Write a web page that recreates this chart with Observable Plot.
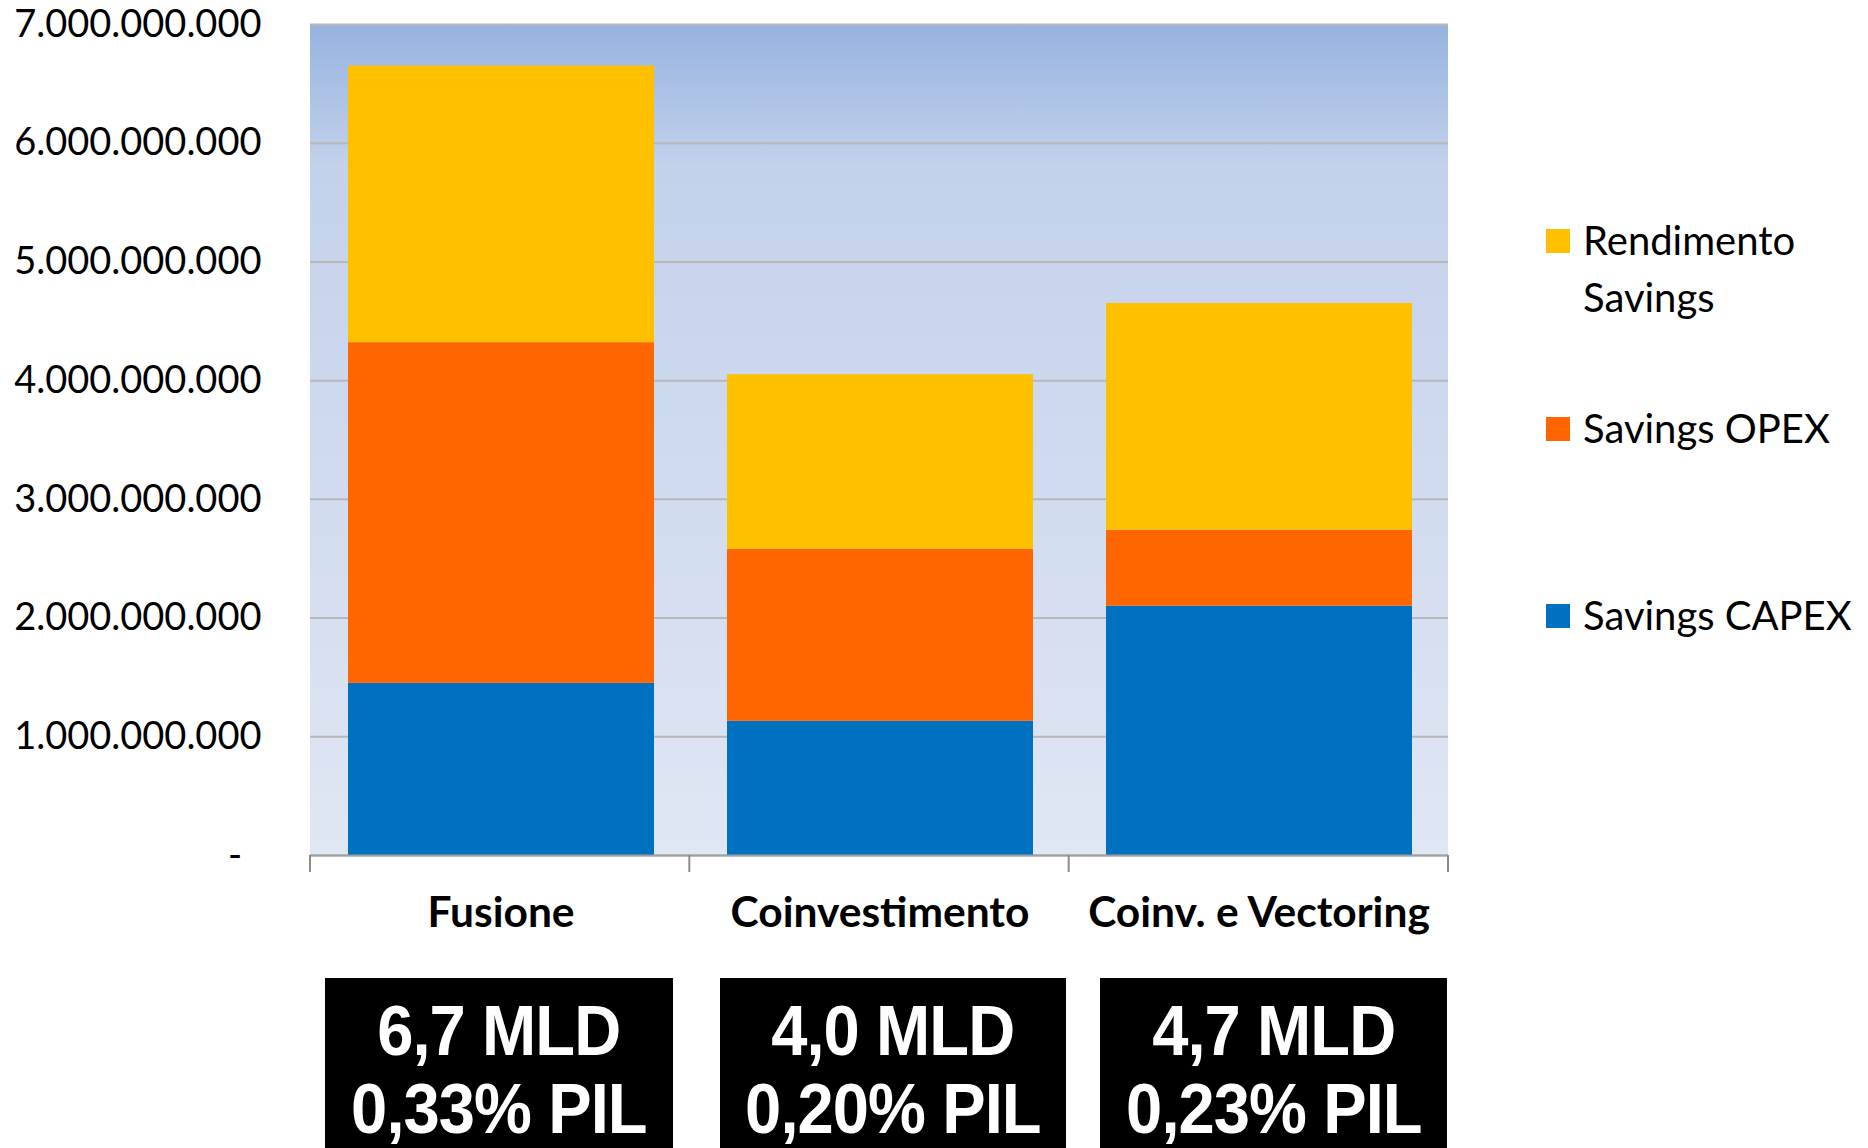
<!DOCTYPE html>
<html>
<head>
<meta charset="utf-8">
<script src="https://cdn.jsdelivr.net/npm/d3@7"></script>
<script src="https://cdn.jsdelivr.net/npm/@observablehq/plot@0.6"></script>
<style>
  body { margin: 0; background: #fff; }
  #wrap { position: relative; width: 1868px; height: 1148px; overflow: hidden; font-family: Lato, sans-serif; }
  #chart { position: absolute; left: 0; top: 0; }
  .li { position: absolute; left: 1546px; display: flex; align-items: flex-start; font-family: Lato, sans-serif; font-size: 40px; line-height: 57px; color: #000; }
  .sw { width: 24px; height: 24px; margin-top: 17px; margin-right: 13px; flex: none; }
  .box { position: absolute; top: 978px; height: 200px; background: #000; color: #fff; text-align: center;
         font-family: "Liberation Sans", Arial, sans-serif; font-weight: bold;
         font-size: 70px; line-height: 78px; padding-top: 14px; box-sizing: border-box; }
  .box span { display: inline-block; transform: scaleX(0.93); white-space: nowrap; letter-spacing: -1px; }
</style>
</head>
<body>
<div id="wrap">
  <div id="chart"></div>
</div>
<script>
// ---- data ----
const categories = ["Fusione", "Coinvestimento", "Coinv. e Vectoring"];
const seriesNames = ["Savings CAPEX", "Savings OPEX", "Rendimento Savings"];
const capex      = [1.45e9, 1.13e9, 2.10e9];
const opex       = [2.87e9, 1.45e9, 0.64e9];
const rendimento = [2.33e9, 1.47e9, 1.91e9];
const seriesColors = ["#0070C0", "#FF6600", "#FFC000"];
const yTicks = [0, 1e9, 2e9, 3e9, 4e9, 5e9, 6e9, 7e9];
const totalLabels = ["6,7 MLD", "4,0 MLD", "4,7 MLD"];
const pilLabels = ["0,33% PIL", "0,20% PIL", "0,23% PIL"];
const legendOrder = ["Rendimento Savings", "Savings OPEX", "Savings CAPEX"];

const seriesValues = [capex, opex, rendimento];
const table = [];
seriesNames.forEach((s, si) => categories.forEach((c, ci) => table.push({cat: c, series: s, value: seriesValues[si][ci]})));

const it = d3.formatLocale({decimal: ",", thousands: ".", grouping: [3], currency: ["€", ""]});
const fmt = d => d === 0 ? "-\u00a0\u00a0" : it.format(",")(d);

// background gradient of the plot area
function background(index, scales, values, dims) {
  const g = d3.create("svg:g");
  const defs = g.append("defs");
  const lg = defs.append("linearGradient").attr("id", "bggrad").attr("x1", 0).attr("y1", 0).attr("x2", 0).attr("y2", 1);
  lg.append("stop").attr("offset", "0%").attr("stop-color", "#96b3e0");
  lg.append("stop").attr("offset", "17%").attr("stop-color", "#c3d1eb");
  lg.append("stop").attr("offset", "100%").attr("stop-color", "#e0e7f4");
  g.append("rect")
    .attr("x", dims.marginLeft).attr("y", dims.marginTop)
    .attr("width", dims.width - dims.marginLeft - dims.marginRight)
    .attr("height", dims.height - dims.marginTop - dims.marginBottom)
    .attr("fill", "url(#bggrad)");
  return g.node();
}

// category boundary tick marks below the axis
function boundaryTicks(index, scales, values, dims) {
  const g = d3.create("svg:g");
  const left = dims.marginLeft, right = dims.width - dims.marginRight;
  const y0 = dims.height - dims.marginBottom;
  const step = (right - left) / categories.length;
  for (let i = 0; i <= categories.length; i++) {
    g.append("line").attr("x1", left + i * step).attr("x2", left + i * step)
      .attr("y1", y0).attr("y2", y0 + 17).attr("stroke", "#8c8c8c").attr("stroke-width", 2);
  }
  return g.node();
}

const chart = Plot.plot({
  width: 1868,
  height: 1148,
  marginLeft: 310,
  marginRight: 420,
  marginTop: 24,
  marginBottom: 293,
  x: {domain: categories, padding: 0, label: null},
  y: {domain: [0, 7e9], label: null},
  color: {domain: seriesNames, range: seriesColors},
  style: {fontFamily: "Lato, sans-serif", fontSize: "37.5px", color: "#000", background: "transparent", overflow: "visible"},
  marks: [
    background,
    Plot.gridY(yTicks, {stroke: "#b8b8b8", strokeOpacity: 1, strokeWidth: 2}),
    Plot.barY(table, {x: "cat", y: "value", fill: "series", order: seriesNames, insetLeft: 37, insetRight: 36}),
    Plot.ruleY([0], {stroke: "#a0a0a0", strokeWidth: 2}),
    boundaryTicks,
    Plot.axisY(yTicks, {tickSize: 0, tickPadding: 49, tickFormat: fmt, fontSize: 38}),
    Plot.axisX({tickSize: 0, tickPadding: 41, fontWeight: "bold", fontSize: 42.5})
  ]
});
document.getElementById("chart").appendChild(chart);

// legend
const wrap = document.getElementById("wrap");
const legendTops = {"Rendimento Savings": 212, "Savings OPEX": 400, "Savings CAPEX": 587};
legendOrder.forEach(name => {
  const div = document.createElement("div");
  div.className = "li";
  div.style.top = legendTops[name] + "px";
  const sw = document.createElement("div");
  sw.className = "sw";
  sw.style.background = seriesColors[seriesNames.indexOf(name)];
  const tx = document.createElement("div");
  tx.innerHTML = name === "Rendimento Savings" ? "Rendimento<br>Savings" : name;
  div.appendChild(sw); div.appendChild(tx);
  wrap.appendChild(div);
});

// summary boxes
const boxLefts = [325, 720, 1100];
const boxWidths = [348, 346, 347];
categories.forEach((c, i) => {
  const b = document.createElement("div");
  b.className = "box";
  b.style.left = boxLefts[i] + "px";
  b.style.width = boxWidths[i] + "px";
  b.innerHTML = `<span>${totalLabels[i]}</span><br><span>${pilLabels[i]}</span>`;
  wrap.appendChild(b);
});
</script>
</body>
</html>
